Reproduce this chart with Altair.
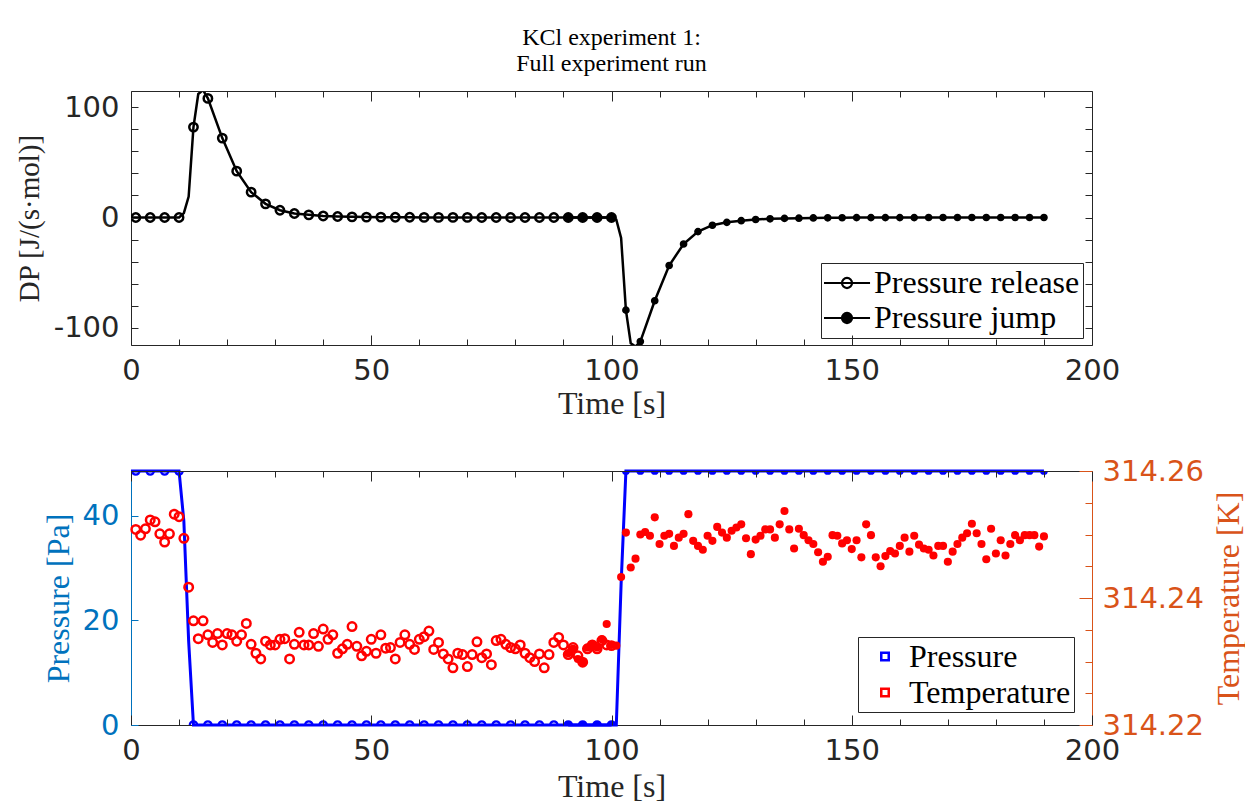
import altair as alt
import pandas as pd

# ---------------- data ----------------
# top panel: differential power DP, two runs
REL_MARK_T = [1, 4, 7, 10, 13, 16, 19, 22, 25, 28, 31, 34, 37, 40, 43, 46, 49, 52, 55, 58,
              61, 64, 67, 70, 73, 76, 79, 82, 85, 88, 91, 94, 97, 100]
REL_MARK_DP = [0, 0, 0, 0, 82, 108, 72, 42, 23, 12.4, 6.6, 3.6, 2.4, 1.4, 0.9, 0.6, 0.4, 0.3, 0.2, 0.2,
               0.1, 0.1, 0.1, 0.1, 0, 0, 0, 0, 0, 0, 0, 0, 0, 0]
REL_LINE_T = [0, 1, 4, 7, 10, 11, 12, 13, 14, 15, 16, 19, 22, 25, 28, 31, 34, 37, 40, 43,
              46, 49, 52, 55, 58, 61, 64, 67, 70, 73, 100]
REL_LINE_DP = [0, 0, 0, 0, 0, 4, 19, 82, 112, 115.5, 108, 72, 42, 23, 12.4, 6.6, 3.6, 2.4, 1.4, 0.9,
               0.6, 0.4, 0.3, 0.2, 0.2, 0.1, 0.1, 0.1, 0.1, 0, 0]

JUMP_MARK_T = [91, 94, 97, 100, 103, 106, 109, 112, 115, 118, 121, 124, 127, 130, 133, 136, 139, 142,
               145, 148, 151, 154, 157, 160, 163, 166, 169, 172, 175, 178, 181, 184, 187, 190]
JUMP_MARK_DP = [0, 0, 0, 0, -84, -112.5, -75.5, -43.5, -24, -12.8, -7, -4.4, -2.9, -1.8, -1.2, -0.8, -0.6, -0.4,
                -0.3, -0.2, -0.1, -0.1, -0.1, -0.1, -0.1, 0, 0, 0, 0, 0, 0, 0, 0, 0]
JUMP_LINE_T = [91, 100, 101, 102, 103, 104, 105, 106, 109, 112, 115, 118, 121, 124, 127, 130, 133, 136,
               139, 142, 145, 148, 151, 163, 190]
JUMP_LINE_DP = [0, 0, -2, -18.5, -84, -114, -117, -112.5, -75.5, -43.5, -24, -12.8, -7, -4.4, -2.9, -1.8,
                -1.2, -0.8, -0.6, -0.4, -0.3, -0.2, -0.1, -0.1, 0]

# bottom panel: pressure
P_REL_LINE_T = [0, 10, 11, 12, 13, 100]
P_REL_LINE = [48.6, 48.6, 39, 16, 0, 0]
P_JUMP_LINE_T = [91, 101, 102, 103, 190]
P_JUMP_LINE = [0, 0, 27, 48.6, 48.6]
P_REL_MARK = [48.6, 48.6, 48.6, 48.6, 0, 0, 0, 0, 0, 0, 0, 0, 0, 0, 0, 0, 0, 0, 0, 0,
              0, 0, 0, 0, 0, 0, 0, 0, 0, 0, 0, 0, 0, 0]
P_JUMP_MARK = [0, 0, 0, 0, 48.6, 48.6, 48.6, 48.6, 48.6, 48.6, 48.6, 48.6, 48.6, 48.6, 48.6, 48.6, 48.6, 48.6,
               48.6, 48.6, 48.6, 48.6, 48.6, 48.6, 48.6, 48.6, 48.6, 48.6, 48.6, 48.6, 48.6, 48.6, 48.6, 48.6]

# bottom panel: temperature (one sample per second)
T_REL_T = list(range(1, 101))
T_REL = [314.2508, 314.2499, 314.2509, 314.2523, 314.2520, 314.2501, 314.2488, 314.2501, 314.2532, 314.2528,
         314.2494, 314.2417, 314.2364, 314.2336, 314.2364, 314.2342, 314.2330, 314.2344, 314.2326, 314.2344,
         314.2342, 314.2332, 314.2342, 314.2360, 314.2327, 314.2313, 314.2304, 314.2332, 314.2326, 314.2326,
         314.2335, 314.2336, 314.2304, 314.2327, 314.2346, 314.2326, 314.2326, 314.2344, 314.2324, 314.2351,
         314.2335, 314.2342, 314.2313, 314.2320, 314.2327, 314.2355, 314.2324, 314.2309, 314.2316, 314.2335,
         314.2313, 314.2342, 314.2321, 314.2322, 314.2304, 314.2330, 314.2342, 314.2327, 314.2319, 314.2335,
         314.2339, 314.2348, 314.2319, 314.2330, 314.2312, 314.2304, 314.2290, 314.2313, 314.2311, 314.2292,
         314.2311, 314.2331, 314.2306, 314.2312, 314.2295, 314.2333, 314.2335, 314.2327, 314.2322, 314.2320,
         314.2326, 314.2313, 314.2306, 314.2300, 314.2312, 314.2290, 314.2311, 314.2330, 314.2338, 314.2326,
         314.2311, 314.2322, 314.2309, 314.2299, 314.2320, 314.2326, 314.2320, 314.2333, 314.2326, 314.2325]
T_JUMP_T = list(range(91, 191))
T_JUMP = [314.2313, 314.2320, 314.2304, 314.2299, 314.2322, 314.2327, 314.2322, 314.2335, 314.2359, 314.2326,
          314.2325, 314.2433, 314.2503, 314.2448, 314.2462, 314.2500, 314.2504, 314.2498, 314.2527, 314.2485,
          314.2498, 314.2501, 314.2482, 314.2495, 314.2501, 314.2532, 314.2490, 314.2482, 314.2476, 314.2498,
          314.2490, 314.2512, 314.2503, 314.2495, 314.2506, 314.2511, 314.2516, 314.2494, 314.2469, 314.2492,
          314.2498, 314.2508, 314.2508, 314.2495, 314.2516, 314.2537, 314.2508, 314.2478, 314.2509, 314.2499,
          314.2491, 314.2485, 314.2472, 314.2457, 314.2465, 314.2499, 314.2498, 314.2486, 314.2491, 314.2477,
          314.2491, 314.2464, 314.2516, 314.2499, 314.2464, 314.2450, 314.2466, 314.2474, 314.2470, 314.2482,
          314.2495, 314.2473, 314.2498, 314.2484, 314.2478, 314.2476, 314.2467, 314.2482, 314.2482, 314.2457,
          314.2473, 314.2485, 314.2495, 314.2502, 314.2517, 314.2502, 314.2485, 314.2461, 314.2509, 314.2470,
          314.2491, 314.2467, 314.2485, 314.2499, 314.2491, 314.2499, 314.2499, 314.2499, 314.2481, 314.2497]

# axes
X_DOMAIN = [0, 200]
X_LABEL_TICKS = [0, 50, 100, 150, 200]
X_ALL_TICKS = [0, 10, 20, 30, 40, 50, 60, 70, 80, 90, 100, 110, 120, 130, 140, 150, 160, 170, 180, 190, 200]
DP_DOMAIN = [-115.6, 114.7]
DP_LABEL_TICKS = [-100, 0, 100]
DP_ALL_TICKS = [-100, -80, -60, -40, -20, 0, 20, 40, 60, 80, 100]
P_DOMAIN = [0, 48.6]
P_TICKS = [0, 20, 40]
T_DOMAIN = [314.22, 314.26]
T_LABEL_TICKS = [314.22, 314.24, 314.26]
T_ALL_TICKS = [314.22, 314.225, 314.23, 314.235, 314.24, 314.245, 314.25, 314.255, 314.26]

TOP_SERIES = ["Pressure release", "Pressure jump"]
BOT_SERIES = ["Pressure", "Temperature"]

# ---------------- styling ----------------
W, H = 961, 254
INK = "#262626"
AX_BLUE = "#0072BD"
AX_ORANGE = "#D95319"
BLUE = "#0000FF"
RED = "#FF0000"
SANS = "DejaVu Sans"
SERIF = "Liberation Serif"
TICK_FS = 29
TITLE_FS = 32


def cond_size(test, major, minor):
    return {"condition": {"test": test, "value": major}, "value": minor}


xs = alt.Scale(domain=X_DOMAIN, nice=False, zero=False)
ys_dp = alt.Scale(domain=DP_DOMAIN, nice=False, zero=False)
ys_p = alt.Scale(domain=P_DOMAIN, nice=False, zero=False)
ys_t = alt.Scale(domain=T_DOMAIN, nice=False, zero=False)


def x_label_axis(title_pad):
    return alt.Axis(orient="bottom", values=X_LABEL_TICKS, ticks=False, domain=True, domainColor=INK,
                    domainWidth=1, labelFont=SANS, labelFontSize=TICK_FS, labelColor=INK, labelPadding=11,
                    labelFlush=False, labelOverlap=False, grid=False, title="Time [s]", titleFont=SERIF,
                    titleFontSize=TITLE_FS, titleFontWeight="normal", titleColor=INK, titlePadding=title_pad)


def x_ticks_bottom():
    return alt.Axis(orient="top", offset=-H, values=X_ALL_TICKS, ticks=True,
                    tickSize=cond_size("datum.value % 50 === 0", 10, 6), tickColor=INK, tickWidth=1,
                    labels=False, domain=False, grid=False, title=None, zindex=2)


def x_ticks_top():
    return alt.Axis(orient="bottom", offset=-H, values=X_ALL_TICKS, ticks=True,
                    tickSize=cond_size("datum.value % 50 === 0", 10, 6), tickColor=INK, tickWidth=1,
                    labels=False, domain=True, domainColor=INK, grid=False, title=None, zindex=2)


MINUS_FIX = "replace(datum.label, '\u2212', '-')"

y_dp_label = alt.Axis(orient="left", values=DP_LABEL_TICKS, ticks=False, domain=True, domainColor=INK,
                      labelFont=SANS, labelFontSize=TICK_FS, labelColor=INK, labelPadding=12, labelFlush=False,
                      labelExpr=MINUS_FIX, grid=False, title="DP [J/(s·mol)]", titleFont=SERIF,
                      titleFontSize=29, titleFontWeight="normal", titleColor=INK, titlePadding=9)
y_dp_ticks_left = alt.Axis(orient="right", offset=-W, values=DP_ALL_TICKS, ticks=True, tickSize=7,
                           tickColor=INK, labels=False, domain=False, grid=False, title=None, zindex=2)
y_dp_ticks_right = alt.Axis(orient="left", offset=-W, values=DP_ALL_TICKS, ticks=True, tickSize=7,
                            tickColor=INK, labels=False, domain=True, domainColor=INK, grid=False,
                            title=None, zindex=2)

y_p_label = alt.Axis(orient="left", values=P_TICKS, ticks=False, domain=True, domainColor=AX_BLUE,
                     labelFont=SANS, labelFontSize=TICK_FS, labelColor=AX_BLUE, labelPadding=12,
                     labelFlush=False, grid=False, title="Pressure [Pa]", titleFont=SERIF,
                     titleFontSize=TITLE_FS, titleFontWeight="normal", titleColor=AX_BLUE, titlePadding=7)
y_p_ticks = alt.Axis(orient="right", offset=-W, values=P_TICKS, ticks=True, tickSize=7, tickColor=AX_BLUE,
                     labels=False, domain=False, grid=False, title=None, zindex=2)
y_t_label = alt.Axis(orient="right", values=T_LABEL_TICKS, format=".2f", ticks=False, domain=True,
                     domainColor=AX_ORANGE, labelFont=SANS, labelFontSize=TICK_FS, labelColor=AX_ORANGE,
                     labelPadding=10, labelFlush=False, grid=False, title="Temperature [K]", titleFont=SERIF,
                     titleFontSize=TITLE_FS, titleFontWeight="normal", titleColor=AX_ORANGE, titleAngle=270,
                     titleBaseline="top", titlePadding=10)
y_t_ticks = alt.Axis(orient="left", offset=-W, values=T_ALL_TICKS, ticks=True,
                     tickSize=cond_size("abs(datum.value * 50 - round(datum.value * 50)) < 0.000001", 13, 7),
                     tickColor=AX_ORANGE, labels=False, domain=False, grid=False, title=None, zindex=2)

PATH_TOP = "M-1.92,0H1.92M0.42,0A0.42,0.42,0,1,1,-0.42,0A0.42,0.42,0,1,1,0.42,0"
LEG_TOP = alt.Legend(orient="none", legendX=690, legendY=172, title=None, symbolType=PATH_TOP,
                     symbolSize=576, symbolStrokeColor="black", symbolStrokeWidth=2.2,
                     labelFont=SERIF, labelFontSize=TITLE_FS, labelColor="black", labelOffset=11,
                     symbolOffset=7, padding=3, clipHeight=34, rowPadding=1, strokeColor=INK,
                     fillColor="white", labelLimit=500)
LEG_BOT = alt.Legend(orient="none", legendX=727, legendY=166, title=None, symbolType="square",
                     symbolSize=56, symbolStrokeWidth=2.5, symbolFillColor="transparent",
                     labelFont=SERIF, labelFontSize=TITLE_FS, labelColor="black", labelOffset=8,
                     symbolOffset=8, padding=3, clipHeight=33, rowPadding=3, strokeColor=INK,
                     fillColor="white", labelLimit=500)

top_fill = alt.Scale(domain=TOP_SERIES, range=["transparent", "black"])
bot_color = alt.Scale(domain=BOT_SERIES, range=[BLUE, RED])

# ---------------- frames ----------------
df_rel_line = pd.DataFrame({"t": REL_LINE_T, "dp": REL_LINE_DP})
df_jump_line = pd.DataFrame({"t": JUMP_LINE_T, "dp": JUMP_LINE_DP})
df_rel_mark = pd.DataFrame({"t": REL_MARK_T, "dp": REL_MARK_DP, "series": TOP_SERIES[0]})
df_jump_mark = pd.DataFrame({"t": JUMP_MARK_T, "dp": JUMP_MARK_DP, "series": TOP_SERIES[1]})

df_p_rel_line = pd.DataFrame({"t": P_REL_LINE_T, "p": P_REL_LINE, "series": BOT_SERIES[0]})
df_p_jump_line = pd.DataFrame({"t": P_JUMP_LINE_T, "p": P_JUMP_LINE})
df_p_rel_mark = pd.DataFrame({"t": REL_MARK_T, "p": P_REL_MARK})
df_p_jump_mark = pd.DataFrame({"t": JUMP_MARK_T, "p": P_JUMP_MARK})
df_t_rel = pd.DataFrame({"t": T_REL_T, "temp": T_REL, "series": BOT_SERIES[1]})
df_t_jump = pd.DataFrame({"t": T_JUMP_T, "temp": T_JUMP})

# ---------------- top panel ----------------
rel_line = alt.Chart(df_rel_line).mark_line(color="black", strokeWidth=2.5, clip=True).encode(
    x=alt.X("t:Q", scale=xs, axis=x_label_axis(3)),
    y=alt.Y("dp:Q", scale=ys_dp, axis=y_dp_label))
jump_line = alt.Chart(df_jump_line).mark_line(color="black", strokeWidth=2.5, clip=True).encode(
    x=alt.X("t:Q", scale=xs, axis=None), y=alt.Y("dp:Q", scale=ys_dp, axis=None))
rel_mark = alt.Chart(df_rel_mark).mark_point(shape="circle", filled=True, stroke="black", strokeWidth=2.5,
                                             size=70, opacity=1, clip=True).encode(
    x=alt.X("t:Q", scale=xs, axis=None), y=alt.Y("dp:Q", scale=ys_dp, axis=None),
    fill=alt.Fill("series:N", scale=top_fill, legend=LEG_TOP))
jump_mark = alt.Chart(df_jump_mark).mark_point(shape="circle", filled=True, stroke="black", strokeWidth=1.5,
                                               size=38, opacity=1, clip=True).encode(
    x=alt.X("t:Q", scale=xs, axis=None), y=alt.Y("dp:Q", scale=ys_dp, axis=None),
    fill=alt.Fill("series:N", scale=top_fill, legend=LEG_TOP))
top_ax1 = alt.Chart(df_rel_mark).mark_point(opacity=0).encode(
    x=alt.X("t:Q", scale=xs, axis=x_ticks_bottom()), y=alt.Y("dp:Q", scale=ys_dp, axis=y_dp_ticks_left))
top_ax2 = alt.Chart(df_rel_mark).mark_point(opacity=0).encode(
    x=alt.X("t:Q", scale=xs, axis=x_ticks_top()), y=alt.Y("dp:Q", scale=ys_dp, axis=y_dp_ticks_right))

top = alt.layer(rel_line, jump_line, rel_mark, jump_mark, top_ax1, top_ax2).resolve_axis(
    x="independent", y="independent").properties(
    width=W, height=H,
    title=alt.TitleParams(text=["KCl experiment 1:", "Full experiment run"], font=SERIF, fontSize=24,
                          fontWeight="normal", color="black", anchor="middle", frame="group",
                          lineHeight=26, offset=15))

# ---------------- bottom panel ----------------
p_rel_line = alt.Chart(df_p_rel_line).mark_line(strokeWidth=3).encode(
    x=alt.X("t:Q", scale=xs, axis=x_label_axis(6)),
    y=alt.Y("p:Q", scale=ys_p, axis=y_p_label),
    color=alt.Color("series:N", scale=bot_color, legend=LEG_BOT))
p_jump_line = alt.Chart(df_p_jump_line).mark_line(color=BLUE, strokeWidth=3).encode(
    x=alt.X("t:Q", scale=xs, axis=None), y=alt.Y("p:Q", scale=ys_p, axis=None))
p_rel_mark = alt.Chart(df_p_rel_mark).mark_point(shape="circle", filled=False, color=BLUE, strokeWidth=2.2,
                                                 size=55, opacity=1, clip=True).encode(
    x=alt.X("t:Q", scale=xs, axis=None), y=alt.Y("p:Q", scale=ys_p, axis=None))
p_jump_mark = alt.Chart(df_p_jump_mark).mark_point(shape="circle", filled=True, color=BLUE,
                                                   size=60, opacity=1, clip=True).encode(
    x=alt.X("t:Q", scale=xs, axis=None), y=alt.Y("p:Q", scale=ys_p, axis=None))
p_ax1 = alt.Chart(df_p_rel_mark).mark_point(opacity=0).encode(
    x=alt.X("t:Q", scale=xs, axis=x_ticks_bottom()), y=alt.Y("p:Q", scale=ys_p, axis=y_p_ticks))
p_ax2 = alt.Chart(df_p_rel_mark).mark_point(opacity=0).encode(
    x=alt.X("t:Q", scale=xs, axis=x_ticks_top()), y=alt.Y("p:Q", scale=ys_p, axis=None))

p_layer = alt.layer(p_rel_line, p_jump_line, p_rel_mark, p_jump_mark, p_ax1, p_ax2).resolve_axis(
    x="independent", y="independent")

t_rel = alt.Chart(df_t_rel).mark_point(shape="circle", filled=False, strokeWidth=2.5, size=72,
                                       opacity=1).encode(
    x=alt.X("t:Q", scale=xs, axis=None),
    y=alt.Y("temp:Q", scale=ys_t, axis=y_t_label),
    color=alt.Color("series:N", scale=bot_color, legend=LEG_BOT))
t_jump = alt.Chart(df_t_jump).mark_point(shape="circle", filled=True, color=RED, size=66, opacity=1).encode(
    x=alt.X("t:Q", scale=xs, axis=None), y=alt.Y("temp:Q", scale=ys_t, axis=None))
t_ax = alt.Chart(df_t_rel).mark_point(opacity=0).encode(
    x=alt.X("t:Q", scale=xs, axis=None), y=alt.Y("temp:Q", scale=ys_t, axis=y_t_ticks))

t_layer = alt.layer(t_rel, t_jump, t_ax).resolve_axis(x="independent", y="independent")

bottom = alt.layer(p_layer, t_layer).resolve_scale(y="independent").resolve_axis(
    x="independent", y="independent").properties(width=W, height=H)

chart = alt.vconcat(top, bottom, spacing=38).resolve_scale(
    color="independent", fill="independent").properties(
    padding={"left": 15, "top": 25, "right": 0, "bottom": 0}, background="white"
).configure_view(stroke=None)

chart.save("out.html", embed_options={"renderer": "svg", "actions": False})
